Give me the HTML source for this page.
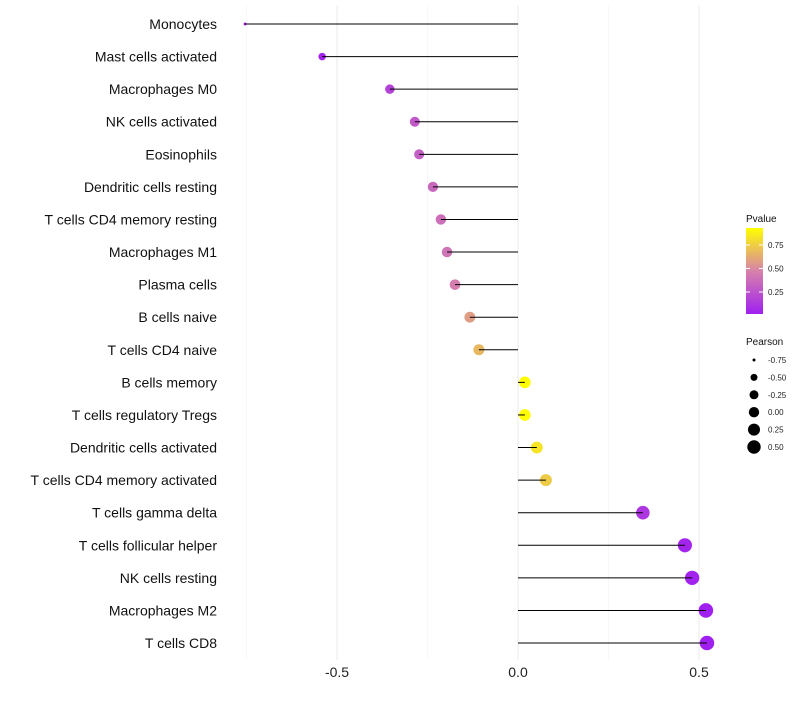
<!DOCTYPE html>
<html><head><meta charset="utf-8"><style>body{margin:0;background:#fff}svg{font-family:"Liberation Sans",sans-serif}</style></head>
<body>
<svg id="c" width="800" height="700"></svg>
<script>
const categories=["Monocytes","Mast cells activated","Macrophages M0","NK cells activated","Eosinophils","Dendritic cells resting","T cells CD4 memory resting","Macrophages M1","Plasma cells","B cells naive","T cells CD4 naive","B cells memory","T cells regulatory  Tregs ","Dendritic cells activated","T cells CD4 memory activated","T cells gamma delta","T cells follicular helper","NK cells resting","Macrophages M2","T cells CD8"];
const pearson=[-0.754,-0.541,-0.354,-0.285,-0.273,-0.235,-0.213,-0.196,-0.174,-0.133,-0.108,0.019,0.019,0.052,0.077,0.345,0.461,0.481,0.519,0.522];
const pvalue=[0.0,0.03,0.17,0.28,0.31,0.35,0.38,0.41,0.45,0.57,0.67,0.93,0.93,0.83,0.74,0.12,0.04,0.03,0.02,0.02];
const xTicks=[-0.5,0,0.5];
const xTickLabels=["-0.5","0.0","0.5"];
const minorTicks=[-0.75,-0.25,0.25];
const pTicks=[0.25,0.5,0.75];
const sizeTicks=[-0.75,-0.5,-0.25,0,0.25,0.5];
const NS="http://www.w3.org/2000/svg",svg=document.getElementById('c');
const x=v=>518+v*362;
const y=i=>24+i*32.58;
const SR=[1.5,4.2,5.1,5.8,6.5,7.2];
function r(v){const t=(v+0.75)/0.25;const i=Math.max(0,Math.min(4,Math.floor(t)));const f=t-i;return SR[i]+(SR[i+1]-SR[i])*f;}
function lerp(a,b,t){return a.map((c,i)=>Math.round(c+(b[i]-c)*t));}
function col(p){const t=Math.max(0,Math.min(1,(p-0.016)/(0.93-0.016)));const A=[160,32,240],M=[215,130,170],B=[255,255,0];const c=t<0.5?lerp(A,M,t*2):lerp(M,B,(t-0.5)*2);return `rgb(${c})`;}
function el(t,a,txt){const e=document.createElementNS(NS,t);for(const k in a)e.setAttribute(k,a[k]);if(txt!=null)e.textContent=txt;svg.appendChild(e);return e;}
minorTicks.forEach(v=>{const g=el('line',{x1:x(v),x2:x(v),y1:5,y2:660,stroke:'#f4f4f4','stroke-width':0.6});});
xTicks.forEach((v,i)=>{const g=el('line',{x1:x(v),x2:x(v),y1:5,y2:660,stroke:'#ebebeb','stroke-width':1});
const t=el('text',{x:x(v),y:677,'text-anchor':'middle','font-size':14,fill:'#222'},xTickLabels[i]);});
categories.forEach((c,i)=>{
const t=el('text',{x:217,y:y(i)+5,'text-anchor':'end','font-size':14,fill:'#111'},c);
const d=el('circle',{cx:x(pearson[i]),cy:y(i),r:r(pearson[i]),fill:col(pvalue[i])});
const l=el('line',{x1:x(0),x2:x(pearson[i]),y1:y(i),y2:y(i),stroke:'#000','stroke-width':1});});
const defs=el('defs',{});const lg=document.createElementNS(NS,'linearGradient');lg.setAttribute('id','g');lg.setAttribute('x1',0);lg.setAttribute('y1',1);lg.setAttribute('x2',0);lg.setAttribute('y2',0);
[[0,'rgb(160,32,240)'],[0.5,'rgb(215,130,170)'],[1,'rgb(255,255,0)']].forEach(s=>{const st=document.createElementNS(NS,'stop');st.setAttribute('offset',s[0]);st.setAttribute('stop-color',s[1]);lg.appendChild(st);});defs.appendChild(lg);
const pt=el('text',{x:746,y:222,'font-size':10,fill:'#111'},'Pvalue');
const bar=el('rect',{x:746,y:228,width:17,height:86,fill:'url(#g)'});
const py=p=>314-(p-0.016)/(0.93-0.016)*86;
pTicks.forEach(p=>{el('line',{x1:746,x2:750,y1:py(p),y2:py(p),stroke:'#fff'});el('line',{x1:759,x2:763,y1:py(p),y2:py(p),stroke:'#fff'});
const t=el('text',{x:768,y:py(p)+3,'font-size':8,fill:'#222'},p.toFixed(2));});
const st=el('text',{x:746,y:345,'font-size':10,fill:'#111'},'Pearson');
const LR=[1.5,3.5,4.5,5.2,6,6.7];
sizeTicks.forEach((v,i)=>{const cy=360+i*17.4;const c=el('circle',{cx:754,cy:cy,r:LR[i],fill:'#000'});
const t=el('text',{x:768,y:cy+3,'font-size':8,fill:'#222'},v.toFixed(2));});
</script>
</body></html>
